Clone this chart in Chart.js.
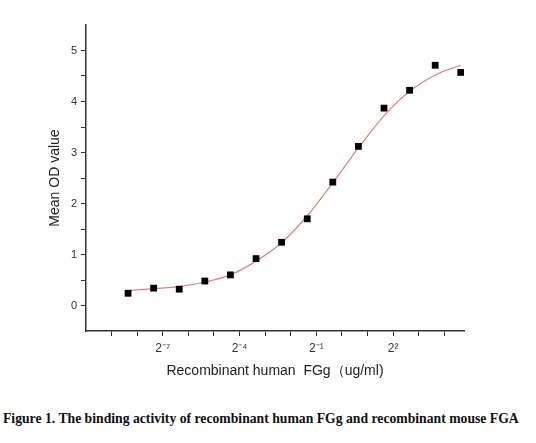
<!DOCTYPE html>
<html>
<head>
<meta charset="utf-8">
<script src="https://cdn.jsdelivr.net/npm/chart.js@4.4.1/dist/chart.umd.min.js"></script>
<style>
    body { margin: 0; background: #fff; }
    #wrap { position: relative; width: 536px; height: 443px; overflow: hidden; }
    #box { position: absolute; left: 0; top: 0; width: 536px; height: 395px; }
    #caption {
        position: absolute; left: 3px; top: 411px; white-space: nowrap;
        font-family: "Liberation Serif", serif; font-weight: bold; font-size: 13.7px; color: #111;
    }
</style>
</head>
<body>
<div id="wrap">
    <div id="box"><canvas id="chart"></canvas></div>
    <div id="caption">Figure 1. The binding activity of recombinant human FGg and recombinant mouse FGA</div>
</div>
<script>
// concentrations (ug/ml), two-fold dilutions from 25
var conc = [0.00305, 0.0061, 0.0122, 0.0244, 0.0488, 0.0977, 0.195, 0.391, 0.781, 1.5625, 3.125, 6.25, 12.5, 25];
// measured mean OD
var meanOD = [0.24, 0.34, 0.32, 0.48, 0.60, 0.92, 1.24, 1.70, 2.42, 3.12, 3.87, 4.22, 4.71, 4.57];
// fitted curve at the same concentrations
var fitOD = [0.29, 0.33, 0.37, 0.46, 0.60, 0.87, 1.23, 1.76, 2.41, 3.09, 3.72, 4.20, 4.52, 4.71];

// x ticks: powers of two
var xTickExp = [-9, -8, -7, -6, -5, -4, -3, -2, -1, 0, 1, 2, 3, 4];
var xLabelExp = [-7, -4, -1, 2];
var xLabels = ['2\u207B\u2077', '2\u207B\u2074', '2\u207B\u00B9', '2\u00B2'];
var yTicks = [0, 0.5, 1, 1.5, 2, 2.5, 3, 3.5, 4, 4.5, 5];

var dots = conc.map(function (c, i) { return { x: c, y: meanOD[i] }; });
var fit = conc.map(function (c, i) { return { x: c, y: fitOD[i] }; });

var ctx = document.getElementById('chart').getContext('2d');
var chart = new Chart(ctx, {
    type: 'scatter',
    data: {
        datasets: [{
            data: dots,
            order: 0,
            pointStyle: 'rect',
            pointRadius: 4.8,
            backgroundColor: '#000',
            borderColor: '#000',
            borderWidth: 0
        }, {
            data: fit,
            order: 1,
            showLine: true,
            pointRadius: 0,
            borderColor: '#e57f7f',
            borderWidth: 1.2,
            cubicInterpolationMode: 'monotone'
        }]
    },
    options: {
        responsive: true,
        maintainAspectRatio: false,
        animation: false,
        layout: { padding: { left: 0, right: 72, top: 25, bottom: 9 } },
        plugins: { legend: { display: false }, tooltip: { enabled: false } },
        scales: {
            x: {
                type: 'logarithmic',
                min: Math.pow(2, -10),
                max: Math.pow(2, 4.77),
                afterBuildTicks: function (scale) {
                    scale.ticks = xTickExp.map(function (e) { return { value: Math.pow(2, e) }; });
                },
                afterFit: function (scale) { scale.height = 55; },
                ticks: {
                    autoSkip: false,
                    maxRotation: 0,
                    padding: 5,
                    color: '#333',
                    font: { family: 'Liberation Sans', size: 12 },
                    callback: function (value) {
                        var e = Math.round(Math.log2(value));
                        var k = xLabelExp.indexOf(e);
                        return k >= 0 ? xLabels[k] : '';
                    }
                },
                grid: { drawOnChartArea: false, drawTicks: true, tickLength: 5, color: '#333', tickWidth: 1 },
                border: { display: true, color: '#333', width: 1.5 },
                title: {
                    display: true,
                    text: 'Recombinant human  FGg\uFF08ug/ml)',
                    color: '#222',
                    font: { family: 'Liberation Sans', size: 14 },
                    padding: { top: 4, bottom: 6 }
                }
            },
            y: {
                min: -0.5,
                max: 5.5,
                afterBuildTicks: function (scale) {
                    scale.ticks = yTicks.map(function (v) { return { value: v }; });
                },
                afterFit: function (scale) { scale.width = 86; },
                ticks: {
                    padding: 4,
                    color: '#333',
                    font: { family: 'Liberation Sans', size: 11 },
                    callback: function (value) {
                        return Number.isInteger(value) ? String(value) : '';
                    }
                },
                grid: { drawOnChartArea: false, drawTicks: true, tickLength: 5, color: '#333', tickWidth: 1 },
                border: { display: true, color: '#333', width: 1.5 },
                title: {
                    display: true,
                    text: 'Mean OD value',
                    color: '#222',
                    font: { family: 'Liberation Sans', size: 14 },
                    padding: { top: 47, bottom: 0 }
                }
            }
        }
    }
});
</script>
</body>
</html>
